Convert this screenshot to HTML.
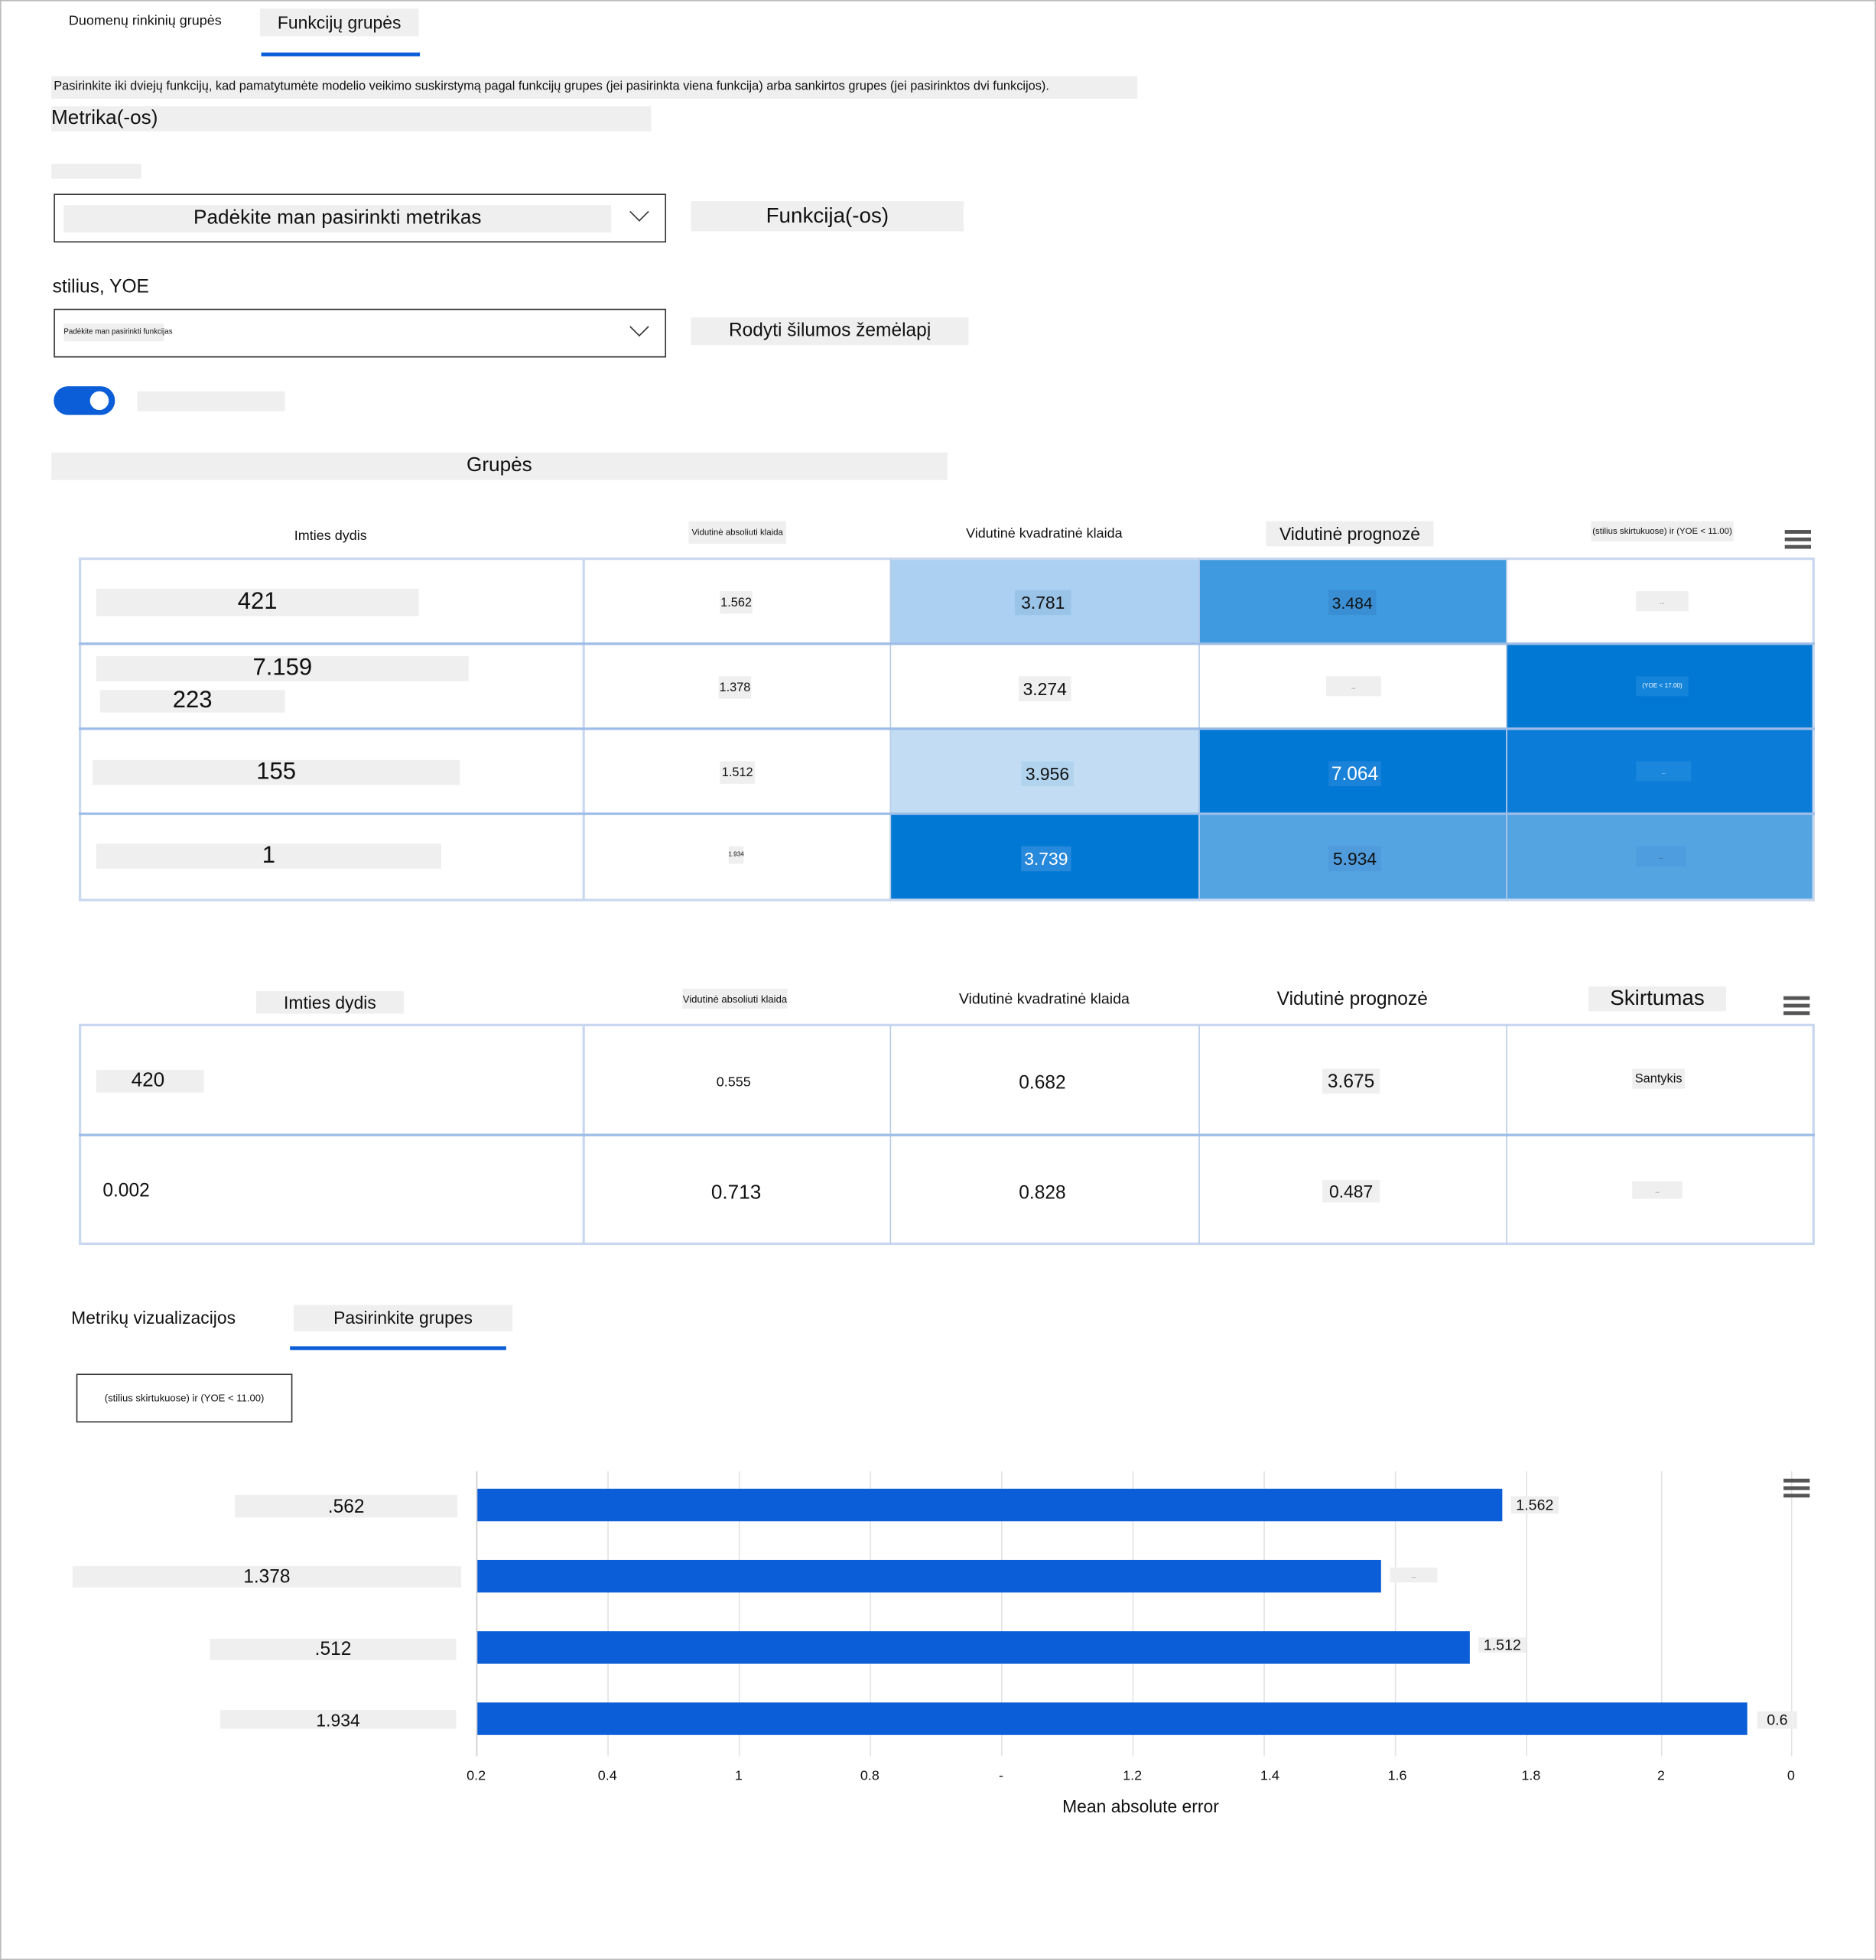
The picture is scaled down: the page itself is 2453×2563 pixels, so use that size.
<!DOCTYPE html>
<html><head><meta charset="utf-8"><style>
html,body{margin:0;padding:0;background:#fff;overflow:hidden}
#w{width:1501px;height:1568px;position:relative;transform:scale(1.63424,1.63457);transform-origin:0 0;font-family:"Liberation Sans",sans-serif;color:#111;border:1px solid #bbb;box-sizing:border-box}
.a{position:absolute;white-space:nowrap}
.g{background:#efefef}
.c{position:absolute;display:flex;align-items:center;justify-content:center;font-size:14px}
.t{position:absolute;border:2px solid #c9d8f0;box-sizing:border-box}
.vl{position:absolute;width:1px;background:#b9cbe8}
.hl{position:absolute;height:2px;background:#9dbde8}
.bar{position:absolute;background:#0b5ed7;height:26px;left:381px}
.tk{position:absolute;top:1414px;font-size:11px;text-align:center;width:20px;margin-left:-10px}
.grid{position:absolute;top:1176px;height:228px;width:1px;background:#e3e3e3}
.menu{position:absolute;width:21px;height:3px;background:#555;box-shadow:0 6px 0 #555,0 12px 0 #555}
</style></head><body><div id="w">
<div class="a" style="left:54px;top:10px;font-size:11px">Duomenų rinkinių grupės</div>
<div class="a g" style="left:207px;top:6px;width:127px;height:22px;font-size:14px;text-align:center;line-height:22px">Funkcijų grupės</div>
<div class="a" style="left:208px;top:41px;width:127px;height:3px;background:#0b5ed7"></div>
<div class="a g" style="left:40px;top:60px;width:867px;height:18px;font-size:10px;line-height:18px;padding-left:2px">Pasirinkite iki dviejų funkcijų, kad pamatytumėte modelio veikimo suskirstymą pagal funkcijų grupes (jei pasirinkta viena funkcija) arba sankirtos grupes (jei pasirinktos dvi funkcijos).</div>
<div class="a g" style="left:40px;top:84px;width:480px;height:20px;font-size:16px;line-height:20px">Metrika(-os)</div>
<div class="a g" style="left:40px;top:130px;width:72px;height:12px"></div>
<div class="a" style="left:42px;top:154px;width:488px;height:37px;border:1px solid #333"></div>
<div class="a g" style="left:50px;top:163px;width:438px;height:22px;font-size:16px;text-align:center;line-height:22px">Padėkite man pasirinkti metrikas</div>
<div class="a" style="left:505px;top:163px;width:10px;height:10px;border-right:1.5px solid #333;border-bottom:1.5px solid #333;transform:rotate(45deg)"></div>
<div class="a g" style="left:552px;top:160px;width:218px;height:24px;font-size:17px;text-align:center;line-height:24px">Funkcija(-os)</div>
<div class="a" style="left:41px;top:220px;font-size:15px">stilius, YOE</div>
<div class="a" style="left:42px;top:246px;width:488px;height:37px;border:1px solid #333"></div>
<div class="a g" style="left:50px;top:258px;width:80px;height:14px;font-size:6px;line-height:14px">Padėkite man pasirinkti funkcijas</div>
<div class="a" style="left:505px;top:255px;width:10px;height:10px;border-right:1.5px solid #333;border-bottom:1.5px solid #333;transform:rotate(45deg)"></div>
<div class="a g" style="left:552px;top:253px;width:222px;height:22px;font-size:15px;text-align:center;line-height:22px">Rodyti šilumos žemėlapį</div>
<div class="a" style="left:42px;top:308px;width:49px;height:23px;border-radius:12px;background:#0b5ed7"></div>
<div class="a" style="left:71px;top:312px;width:15px;height:15px;border-radius:50%;background:#fff"></div>
<div class="a g" style="left:109px;top:312px;width:118px;height:16px"></div>
<div class="a g" style="left:40px;top:361px;width:717px;height:22px;font-size:16px;text-align:center;line-height:22px">Grupės</div>

<!-- table 1 headers -->
<div class="c" style="left:62px;top:418px;width:403px;height:20px;font-size:11px">Imties dydis</div>
<div class="c g" style="left:550px;top:416px;width:78px;height:18px;font-size:7px">Vidutinė absoliuti klaida</div>
<div class="c" style="left:711px;top:417px;width:247px;height:18px;font-size:11px">Vidutinė kvadratinė klaida</div>
<div class="c g" style="left:1012px;top:416px;width:134px;height:20px;font-size:14px">Vidutinė prognozė</div>
<div class="c g" style="left:1272px;top:416px;width:114px;height:16px;font-size:7px">(stilius skirtukuose) ir (YOE &lt; 11.00)</div>
<div class="menu" style="left:1427px;top:423px"></div>
<!-- table1 cells colors -->
<div class="a" style="left:711px;top:446px;width:247px;height:68px;background:#abd0f1"></div>
<div class="a" style="left:958px;top:446px;width:246px;height:68px;background:#3f9ae0"></div>
<div class="a" style="left:1204px;top:514px;width:246px;height:68px;background:#0078d4"></div>
<div class="a" style="left:711px;top:582px;width:247px;height:68px;background:#c2ddf3"></div>
<div class="a" style="left:958px;top:582px;width:246px;height:68px;background:#0078d4"></div>
<div class="a" style="left:1204px;top:582px;width:246px;height:68px;background:#0b7cd7"></div>
<div class="a" style="left:711px;top:650px;width:247px;height:68px;background:#0078d4"></div>
<div class="a" style="left:958px;top:650px;width:492px;height:68px;background:#53a4e1"></div>
<div class="t" style="left:62px;top:445px;width:1389px;height:275px"></div>
<div class="vl" style="left:465px;top:446px;height:273px;width:2px;background:#c9d8f0"></div>
<div class="vl" style="left:711px;top:446px;height:273px"></div>
<div class="vl" style="left:958px;top:446px;height:273px"></div>
<div class="vl" style="left:1204px;top:446px;height:273px"></div>
<div class="hl" style="left:62px;top:513px;width:1389px"></div>
<div class="hl" style="left:62px;top:581px;width:1389px"></div>
<div class="hl" style="left:62px;top:649px;width:1389px"></div>
<div class="c g" style="left:76px;top:470px;width:258px;height:22px;font-size:19px">421</div>
<div class="c g" style="left:76px;top:524px;width:298px;height:20px;font-size:19px">7.159</div>
<div class="c g" style="left:79px;top:551px;width:148px;height:18px;font-size:19px">223</div>
<div class="c g" style="left:73px;top:607px;width:294px;height:20px;font-size:19px">155</div>
<div class="c g" style="left:76px;top:674px;width:276px;height:20px;font-size:19px">1</div>
<div class="c g" style="left:575px;top:472px;width:26px;height:18px;font-size:10px">1.562</div>
<div class="c g" style="left:574px;top:540px;width:26px;height:18px;font-size:10px">1.378</div>
<div class="c g" style="left:575px;top:608px;width:28px;height:18px;font-size:10px">1.512</div>
<div class="c g" style="left:582px;top:676px;width:12px;height:14px;font-size:5px">1.934</div>
<div class="c" style="left:811px;top:471px;width:45px;height:20px;font-size:14px;background:#9ac3e8">3.781</div>
<div class="c g" style="left:814px;top:540px;width:42px;height:20px;font-size:14px">3.274</div>
<div class="c" style="left:816px;top:608px;width:42px;height:20px;font-size:14px;background:#b2d3ee">3.956</div>
<div class="c" style="left:816px;top:676px;width:40px;height:20px;font-size:14px;color:#fff;background:#2789db">3.739</div>
<div class="c" style="left:1062px;top:471px;width:38px;height:20px;font-size:13px;background:#3a8fd4">3.484</div>
<div class="c g" style="left:1060px;top:540px;width:44px;height:16px;font-size:4px">...</div>
<div class="c" style="left:1062px;top:608px;width:42px;height:20px;font-size:15px;color:#fff;background:#1a82d8">7.064</div>
<div class="c" style="left:1062px;top:676px;width:42px;height:20px;font-size:14px;background:#4f9bdc">5.934</div>
<div class="c g" style="left:1308px;top:472px;width:42px;height:16px;font-size:4px">...</div>
<div class="c" style="left:1308px;top:540px;width:42px;height:16px;font-size:5px;color:#fff;background:#1483da">(YOE &lt; 17.00)</div>
<div class="c" style="left:1308px;top:608px;width:44px;height:16px;font-size:4px;color:#fff;background:#1a86dc">...</div>
<div class="c" style="left:1308px;top:676px;width:40px;height:16px;font-size:4px;background:#4d9ddf">...</div>

<!-- table 2 -->
<div class="c g" style="left:204px;top:792px;width:118px;height:18px;font-size:14px">Imties dydis</div>
<div class="c g" style="left:545px;top:790px;width:84px;height:16px;font-size:8px">Vidutinė absoliuti klaida</div>
<div class="c" style="left:711px;top:789px;width:247px;height:18px;font-size:12px">Vidutinė kvadratinė klaida</div>
<div class="c" style="left:958px;top:788px;width:246px;height:20px;font-size:15px">Vidutinė prognozė</div>
<div class="c g" style="left:1270px;top:788px;width:110px;height:20px;font-size:17px">Skirtumas</div>
<div class="menu" style="left:1426px;top:796px"></div>
<div class="t" style="left:62px;top:818px;width:1389px;height:177px"></div>
<div class="vl" style="left:465px;top:819px;height:175px;width:2px;background:#c9d8f0"></div>
<div class="vl" style="left:711px;top:819px;height:175px"></div>
<div class="vl" style="left:958px;top:819px;height:175px"></div>
<div class="vl" style="left:1204px;top:819px;height:175px"></div>
<div class="hl" style="left:62px;top:906px;width:1389px"></div>
<div class="c g" style="left:76px;top:855px;width:86px;height:18px;font-size:16px;justify-content:flex-start;padding-left:28px;box-sizing:border-box">420</div>
<div class="c" style="left:70px;top:940px;width:60px;height:22px;font-size:15px">0.002</div>
<div class="c" style="left:560px;top:856px;width:52px;height:18px;font-size:11px">0.555</div>
<div class="c" style="left:560px;top:944px;width:56px;height:20px;font-size:16px">0.713</div>
<div class="c" style="left:805px;top:855px;width:56px;height:20px;font-size:15px">0.682</div>
<div class="c" style="left:805px;top:943px;width:56px;height:20px;font-size:15px">0.828</div>
<div class="c g" style="left:1057px;top:854px;width:46px;height:20px;font-size:15px">3.675</div>
<div class="c g" style="left:1057px;top:943px;width:46px;height:18px;font-size:14px">0.487</div>
<div class="c g" style="left:1305px;top:854px;width:42px;height:16px;font-size:10px">Santykis</div>
<div class="c g" style="left:1305px;top:944px;width:40px;height:14px;font-size:4px">...</div>

<!-- bottom tabs -->
<div class="a" style="left:56px;top:1045px;font-size:14px">Metrikų vizualizacijos</div>
<div class="a g" style="left:234px;top:1043px;width:175px;height:21px;font-size:14px;text-align:center;line-height:21px">Pasirinkite grupes</div>
<div class="a" style="left:231px;top:1076px;width:173px;height:3px;background:#0b5ed7"></div>
<div class="a" style="left:60px;top:1098px;width:171px;height:37px;border:1px solid #333;font-size:8px;text-align:center;line-height:37px">(stilius skirtukuose) ir (YOE &lt; 11.00)</div>

<!-- chart -->
<div class="grid" style="left:380px;background:#ccc"></div>
<div class="grid" style="left:485px"></div><div class="grid" style="left:590px"></div><div class="grid" style="left:695px"></div><div class="grid" style="left:800px"></div><div class="grid" style="left:905px"></div><div class="grid" style="left:1010px"></div><div class="grid" style="left:1115px"></div><div class="grid" style="left:1220px"></div><div class="grid" style="left:1328px"></div><div class="grid" style="left:1432px"></div>
<div class="bar" style="top:1190px;width:820px"></div>
<div class="bar" style="top:1247px;width:723px"></div>
<div class="bar" style="top:1304px;width:794px"></div>
<div class="bar" style="top:1361px;width:1016px"></div>
<div class="c g" style="left:187px;top:1195px;width:178px;height:18px;font-size:15px">.562</div>
<div class="c g" style="left:57px;top:1252px;width:311px;height:17px;font-size:15px">1.378</div>
<div class="c g" style="left:167px;top:1310px;width:197px;height:17px;font-size:15px">.512</div>
<div class="c g" style="left:175px;top:1367px;width:189px;height:15px;font-size:14px">1.934</div>
<div class="c g" style="left:1208px;top:1196px;width:38px;height:14px;font-size:12px">1.562</div>
<div class="c g" style="left:1111px;top:1253px;width:38px;height:12px;font-size:4px">...</div>
<div class="c g" style="left:1182px;top:1309px;width:38px;height:12px;font-size:12px">1.512</div>
<div class="c g" style="left:1405px;top:1368px;width:32px;height:14px;font-size:12px">0.6</div>
<div class="menu" style="left:1426px;top:1182px"></div>
<div class="tk" style="left:380px">0.2</div><div class="tk" style="left:485px">0.4</div><div class="tk" style="left:590px">1</div><div class="tk" style="left:695px">0.8</div><div class="tk" style="left:800px">-</div><div class="tk" style="left:905px">1.2</div><div class="tk" style="left:1015px">1.4</div><div class="tk" style="left:1117px">1.6</div><div class="tk" style="left:1224px">1.8</div><div class="tk" style="left:1328px">2</div><div class="tk" style="left:1432px">0</div>
<div class="a" style="left:849px;top:1436px;font-size:14px">Mean absolute error</div>
</div></body></html>
